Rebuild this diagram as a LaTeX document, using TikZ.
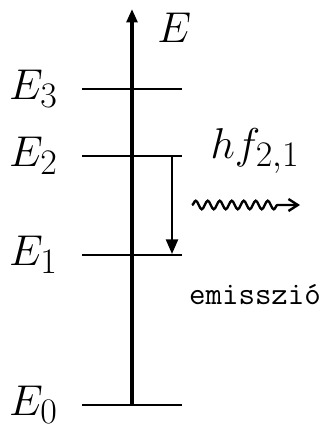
\documentclass[tikz,border=0pt]{standalone}
\usepackage{amsmath,amssymb}
\usepackage{tikz}
\usepackage{xcolor}
\usetikzlibrary{arrows.meta,positioning,decorations.pathmorphing}

\begin{document}
\begin{tikzpicture}[x=0.75pt,y=-0.75pt,
          level/.style={line width=2pt},
          elabel/.style={font=\Huge,scale=1.3,anchor=base east,inner sep=0pt}]
        \useasboundingbox (0,0) rectangle (320,429);
        % energy axis
        \coordinate (bottom) at (132,405);
        \coordinate (top) at (132,9);
        \draw[line width=2.6pt,-{Triangle[length=10pt,width=8pt]}] (bottom) -- (top);
        \node[elabel,anchor=base west] (axis) at (157,42) {$E$};
        % levels
        \foreach \i/\y in {3/89,2/156,1/255,0/405} {
          \coordinate (L\i a) at (82,\y);
          \coordinate (L\i b) at (182,\y);
          \draw[level] (L\i a) -- (L\i b);
          \node[elabel] (E\i) at (58,\y+10) {$E_{\i}$};
        }
        % transition
        \coordinate (from) at (172,156);
        \coordinate (to) at (172,254);
        \draw[line width=1.8pt,-{Triangle[length=11pt,width=9pt]}] (from) -- (to);
        \coordinate (wa) at (192,205);
        \coordinate (wb) at (300,205);
        \draw[line width=1.8pt,-{Straight Barb[length=7pt,width=9pt]},decorate,
              decoration={snake,amplitude=3.2pt,segment length=9pt,post length=15pt}]
              (wa) -- (wb);
        \node[font=\Huge,scale=1.3,anchor=base] (hf) at (255,158) {$hf_{2,1}$};
        \node[font=\ttfamily\fontsize{24}{28}\selectfont,anchor=base] (emis) at (255,304) {emisszió};
      \end{tikzpicture}
\end{document}
